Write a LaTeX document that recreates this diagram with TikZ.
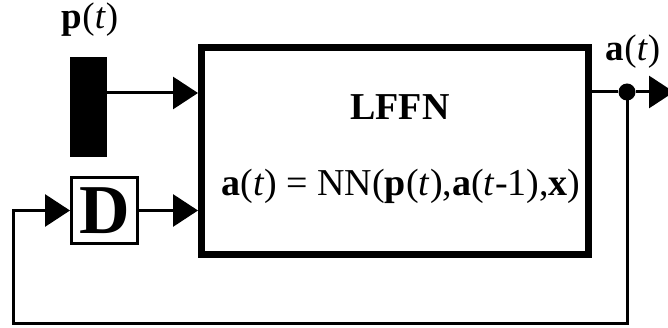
\documentclass[tikz,border=0pt]{standalone}
\usepackage{fontspec}
\setmainfont{Liberation Serif}
\usetikzlibrary{arrows.meta}
\begin{document}
\begin{tikzpicture}[x=1pt,y=-1pt,
  wire/.style={line width=3pt},
  tri/.style={-{Triangle[length=25pt,width=32pt]}},
  big/.style={font=\fontsize{38}{42}\selectfont},
  lab/.style={font=\fontsize{37}{40}\selectfont}]
\useasboundingbox (0,0) rectangle (668,328);
% input bar
\node[fill=black,minimum width=37pt,minimum height=100pt,inner sep=0pt] (bar) at (88.5,107) {};
\node[lab] (plab) at (90,20) {\textbf{p}(\textit{t})};
% delay box
\node[draw,line width=3pt,minimum width=66pt,minimum height=66pt,inner sep=0pt] (D) at (104.5,210.5) {\fontsize{70}{72}\selectfont\textbf{D}};
% main box
\node[draw,line width=7pt,minimum width=387pt,minimum height=207pt,inner sep=0pt] (box) at (395,151) {};
\node[big] (title) at (400,107) {\textbf{LFFN}};
\node[big] (eq) at (401,186) {\textbf{a}(\textit{t}) = NN(\textbf{p}(\textit{t}),\textbf{a}(\textit{t}-1),\textbf{x})};
% output
\node[circle,fill=black,minimum size=17pt,inner sep=0pt] (dot) at (627,92) {};
\node[lab] (alab) at (633,52) {\textbf{a}(\textit{t})};
\coordinate (out) at (674,92);
\coordinate (fb) at (13,323);
% connectors
\path ([yshift=14pt]bar.east) coordinate (p1);
\draw[wire,tri] (p1) -- (p1 -| box.west);
\draw[wire,tri] (D.east) -- (D.east -| box.west);
\draw[wire] (box.east |- dot) -- (dot);
\draw[wire,tri] (dot) -- (out);
\draw[wire,tri] (dot.center) |- (fb) |- (D.west);
\end{tikzpicture}
\end{document}
